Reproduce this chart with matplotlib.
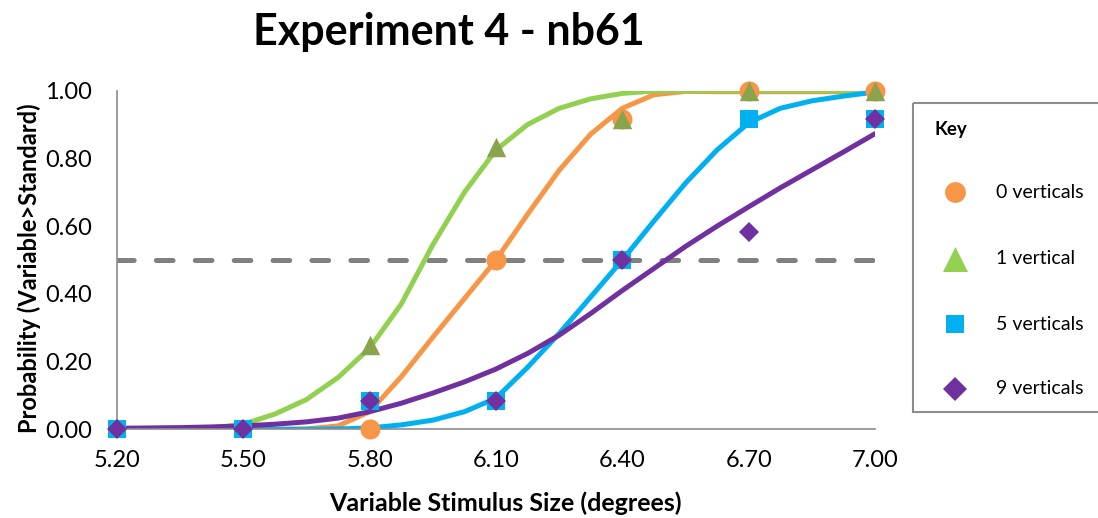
import matplotlib.pyplot as plt
import numpy as np
from matplotlib.patches import Rectangle

plt.rcParams['font.family'] = ['Lato', 'DejaVu Sans']
plt.rcParams['lines.scale_dashes'] = False

# observed proportions
sizes = [5.20, 5.50, 5.80, 6.10, 6.40, 6.70, 7.00]
nan = np.nan
p_v0 = [nan, nan, 0.0, 0.5, 0.917, 1.0, 1.0]
p_v1 = [nan, nan, 0.25, 0.833, 0.917, 1.0, 1.0]
p_v5 = [0.0, 0.0, 0.083, 0.083, 0.5, 0.917, 0.917]
p_v9 = [0.0, 0.0, 0.083, 0.083, 0.5, 0.583, 0.917]

# fitted curves
fit_x = [5.2, 5.275, 5.35, 5.425, 5.5, 5.575, 5.65, 5.725, 5.8, 5.875, 5.95, 6.025, 6.1,
         6.175, 6.25, 6.325, 6.4, 6.475, 6.55, 6.625, 6.7, 6.775, 6.85, 6.925, 7.0]
fit_v0 = [0, 0, 0, 0, 0, 0, 0.001, 0.01, 0.052, 0.155, 0.272, 0.386, 0.5,
          0.635, 0.765, 0.872, 0.948, 0.988, 0.998, 0.997, 0.997, 0.997, 0.997, 0.997, 0.997]
fit_v1 = [0, 0, 0.001, 0.004, 0.015, 0.045, 0.088, 0.153, 0.24, 0.37, 0.545, 0.7, 0.825,
          0.9, 0.948, 0.976, 0.992, 0.999, 1, 1, 1, 1, 1, 1, 1]
fit_v5 = [0, 0, 0, 0, 0, 0, 0, 0.001, 0.004, 0.013, 0.027, 0.052, 0.092,
          0.183, 0.283, 0.391, 0.5, 0.615, 0.727, 0.825, 0.905, 0.948, 0.97, 0.984, 0.996]
fit_v9 = [0.003, 0.004, 0.005, 0.007, 0.01, 0.015, 0.022, 0.033, 0.052, 0.077, 0.107, 0.14, 0.178,
          0.224, 0.278, 0.342, 0.41, 0.475, 0.54, 0.6, 0.657, 0.713, 0.766, 0.819, 0.873]

legend_labels = ['0 verticals', '1 vertical', '5 verticals', '9 verticals']

orange = '#F79646'
green = '#92D050'
olive = '#8AA34D'
blue = '#00B0F0'
purple = '#7030A0'
tri = [(-1, -1), (1, -1), (0, 1)]

W, H = 1098, 518
fig = plt.figure(figsize=(W / 100, H / 100), dpi=100)
ax = fig.add_axes([117 / W, 1 - 429.3 / H, 758 / W, 338.6 / H])

ax.axhline(0.5, color='#808080', lw=3.6, dashes=(12, 16), dash_capstyle='round', zorder=1)

for fit, c in [(fit_v0, orange), (fit_v1, green), (fit_v5, blue), (fit_v9, purple)]:
    ax.plot(fit_x, fit, color=c, lw=3.6, solid_joinstyle='round', solid_capstyle='round', zorder=2)

ax.plot(sizes, p_v0, 'o', color=orange, ms=14.4, mew=0, zorder=3, clip_on=False)
ax.plot(sizes, p_v1, marker=tri, ls='none', color=olive, ms=14, mew=0, zorder=3, clip_on=False)
ax.plot(sizes, p_v5, 's', color=blue, ms=13.6, mew=0, zorder=3, clip_on=False)
ax.plot(sizes, p_v9, 'D', color=purple, ms=10.2, mew=0, zorder=3, clip_on=False)

ax.set_xlim(5.2, 7.0)
ax.set_ylim(0, 1)
ax.set_xticks(sizes)
ax.set_xticklabels([f'{s:.2f}' for s in sizes])
ax.set_yticks([0, 0.2, 0.4, 0.6, 0.8, 1.0])
ax.set_yticklabels([f'{v:.2f}' for v in [0, 0.2, 0.4, 0.6, 0.8, 1.0]])
ax.tick_params(length=0, labelsize=17, colors='black')
ax.tick_params(axis='x', pad=15)
ax.tick_params(axis='y', pad=18)
for s in ['top', 'right']:
    ax.spines[s].set_visible(False)
for s in ['left', 'bottom']:
    ax.spines[s].set_color('#8C8C8C')
    ax.spines[s].set_linewidth(1.2)

fig.text(449 / W, 1 - 32 / H, 'Experiment 4 - nb61', ha='center', va='center',
         fontsize=31, fontweight='bold')
fig.text(505 / W, 1 - 503 / H, 'Variable Stimulus Size (degrees)', ha='center', va='center',
         fontsize=18, fontweight='bold')
fig.text(29 / W, 1 - 268 / H, 'Probability (Variable>Standard)', ha='center', va='center',
         rotation=90, fontsize=17, fontweight='bold')

# key box on the right
kx = fig.add_axes([0, 0, 1, 1], zorder=-1)
kx.set_xlim(0, W)
kx.set_ylim(H, 0)
kx.axis('off')
kx.add_patch(Rectangle((912.5, 103), 200, 309, fill=False, ec='#8C8C8C', lw=1.5))
kx.text(934, 129, 'Key', ha='left', va='center', fontsize=13.5, fontweight='bold')
rows = [192, 259, 324, 389]
kx.plot(955, rows[0], 'o', color=orange, ms=15, mew=0)
kx.plot(955, rows[1], marker=tri, color=green, ms=18, mew=0)
kx.plot(955, rows[2], 's', color=blue, ms=13.5, mew=0)
kx.plot(955, rows[3], 'D', color=purple, ms=12.5, mew=0)
for r, lab in zip(rows, legend_labels):
    kx.text(996, r, lab, ha='left', va='center', fontsize=14)

fig.savefig('out.png', dpi=100)
